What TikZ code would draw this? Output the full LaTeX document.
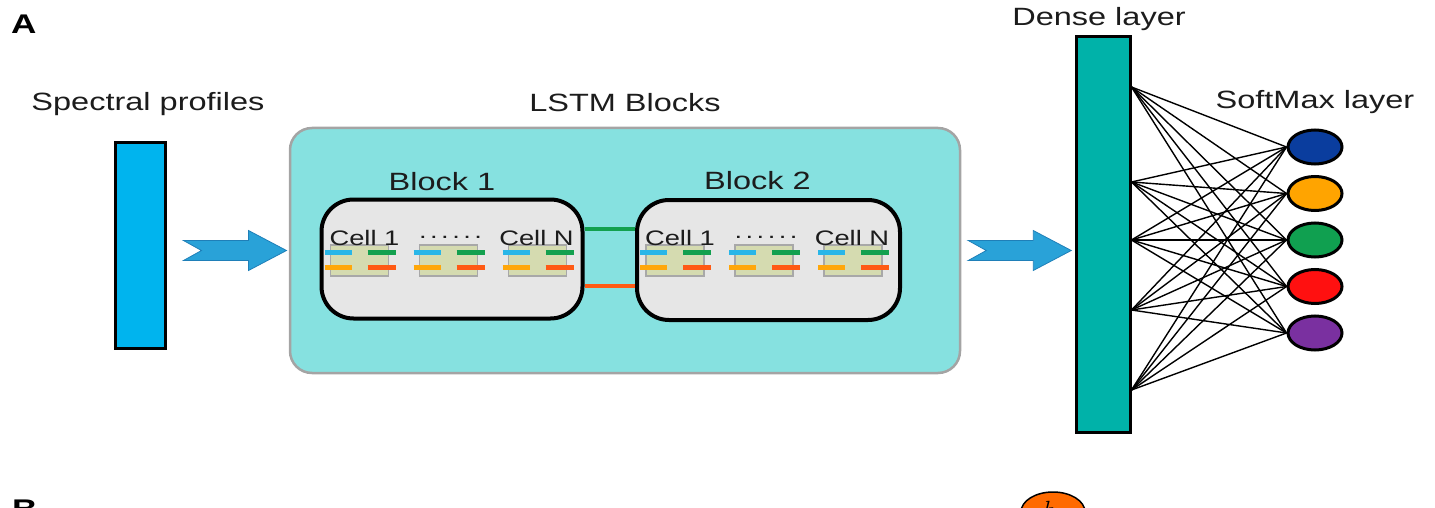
\documentclass[tikz,border=0pt]{standalone}
\usepackage{fontspec}
\setmainfont{Liberation Sans}[FakeStretch=1.3]
\usetikzlibrary{positioning,shapes.geometric}

\definecolor{specblue}{HTML}{00B4EE}
\definecolor{lstmfill}{HTML}{86E1E0}
\definecolor{lstmedge}{HTML}{A4A4A4}
\definecolor{blockfill}{HTML}{E6E6E6}
\definecolor{cellfill}{HTML}{D5DBB0}
\definecolor{celledge}{HTML}{A8A8A8}
\definecolor{gateblue}{HTML}{29B6E8}
\definecolor{gategreen}{HTML}{13A04F}
\definecolor{gateorange}{HTML}{FFA70A}
\definecolor{gatered}{HTML}{FF5A14}
\definecolor{arrowfill}{HTML}{29A2D8}
\definecolor{arrowedge}{HTML}{1F7FB8}
\definecolor{densefill}{HTML}{00B2A9}
\definecolor{smblue}{HTML}{0A3D9E}
\definecolor{smorange}{HTML}{FFA400}
\definecolor{smgreen}{HTML}{10A050}
\definecolor{smred}{HTML}{FF1010}
\definecolor{smpurple}{HTML}{7A30A0}
\definecolor{htorange}{HTML}{FF6A00}
\definecolor{labelgray}{HTML}{1C1C1C}

\begin{document}
\begin{tikzpicture}[x=1pt,y=-1pt,
		label/.style={text=labelgray, inner sep=0pt, font=\fontsize{25}{30}\selectfont},
		celllabel/.style={text=labelgray, inner sep=0pt, font=\fontsize{21}{25}\selectfont},
		panel/.style={text=black, inner sep=0pt, font=\fontsize{27}{32}\selectfont\bfseries},
		bar/.style={draw=black, line width=3pt, inner sep=0pt},
		lstmblock/.style={draw=black, line width=4pt, fill=blockfill, rounded corners=32pt, minimum width=261pt, minimum height=119pt, inner sep=0pt},
		cell/.style={draw=celledge, line width=1.2pt, fill=cellfill, minimum width=58pt, minimum height=31pt, inner sep=0pt},
		gate/.style={line width=5pt},
		softmax/.style={ellipse, draw=black, line width=3pt, minimum width=54pt, minimum height=34pt, inner sep=0pt},
		wire/.style={black, line width=1.4pt},
		fatarrow/.pic={
			\draw[fill=arrowfill, draw=arrowedge, line width=0.8pt] (0,-10) -- (65,-10) -- (65,-20) -- (103,0) -- (65,20) -- (65,10) -- (0,10) -- (18,0) -- cycle;
		}]
	
	\useasboundingbox (0,0) rectangle (1435,508);
	\clip (0,0) rectangle (1435,508);
	
	\node[panel, anchor=base west] (pa) at (11,34) {A};
	\node[panel, anchor=base west] (pb) at (12,518) {B};
	
	\node[bar, fill=specblue, minimum width=50pt, minimum height=205pt] (spec) at (140,245.5) {};
	\node[label, above=26pt of spec, xshift=8pt] (speclabel) {Spectral profiles};
	
	\node[draw=lstmedge, line width=2.5pt, fill=lstmfill, rounded corners=22pt, minimum width=670pt, minimum height=245pt] (lstm) at (625,250.5) {};
	\node[label, above=15pt of lstm] (lstmlabel) {LSTM Blocks};
	
	\node[lstmblock] (block1) at (452,259) {};
	\node[lstmblock, minimum width=263pt, minimum height=120pt] (block2) at (768.5,260) {};
	\node[label, above=7pt of block1, xshift=-10pt] (b1label) {Block 1};
	\node[label, above=8pt of block2, xshift=-11pt] (b2label) {Block 2};
	
	\draw[gategreen, line width=3.5pt] (block1.east |- 0,229) -- (block2.west |- 0,229);
	\draw[gatered, line width=3.5pt] (block1.east |- 0,286) -- (block2.west |- 0,286);
	
	\foreach \b in {1,2}{
		\foreach \k in {0,1,2}{
			\path (block\b.west |- 0,260.5) ++({40+89*\k},0) node[cell] (c\b\k) {};
			\draw[gate, gateblue] (c\b\k.center) ++(-35,-8.5) -- ++(27,0);
			\draw[gate, gategreen] (c\b\k.center) ++(8,-8.5) -- ++(28,0);
			\draw[gate, gateorange] (c\b\k.center) ++(-35,6.5) -- ++(27,0);
			\draw[gate, gatered] (c\b\k.center) ++(8,6.5) -- ++(28,0);
		}
		\node[celllabel, above=-2pt of c\b0, xshift=5pt] (cl\b) {Cell 1};
		\node[celllabel, above=6pt of c\b1, xshift=2pt] (cd\b) {.\,.\,.\,.\,.\,.};
		\node[celllabel, above=-2pt of c\b2, xshift=-1pt] (cn\b) {Cell N};
	}
	
	\path (spec.east |- lstm.west) ++(17,0) pic {fatarrow};
	\path (lstm.east) ++(7,0) pic {fatarrow};
	
	\node[bar, fill=densefill, minimum width=54pt, minimum height=395pt] (dense) at (1103,234.5) {};
	\node[label, above=5pt of dense, xshift=-4pt] (denselabel) {Dense layer};
	
	\foreach \c [count=\j] in {smblue,smorange,smgreen,smred,smpurple}
		\node[softmax, fill=\c] (s\j) at (1315,{100.5+46.5*\j}) {};
	\node[label, above=15pt of s1] (smlabel) {SoftMax layer};
	
	\foreach \y [count=\i] in {87,182,240,310,390}
		\coordinate (d\i) at (dense.east |- 0,\y);
	\foreach \i in {1,...,5}
		\foreach \j in {1,...,5}
			\draw[wire] (d\i) -- (s\j.west);
	
	\node[ellipse, draw=black, line width=1.5pt, fill=htorange, minimum width=64pt, minimum height=40pt, inner sep=0pt] (ht) at (1053,512) {\raisebox{5pt}{\fontsize{24}{28}\selectfont$h_t$}};
\end{tikzpicture}
\end{document}
